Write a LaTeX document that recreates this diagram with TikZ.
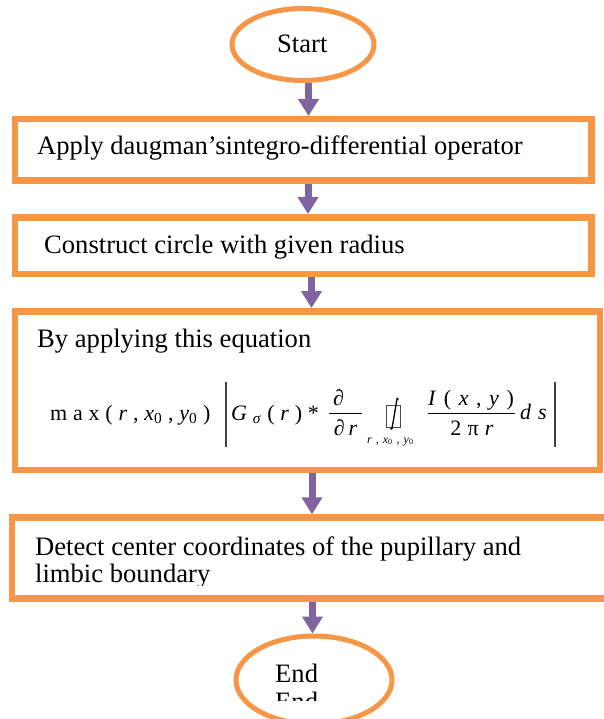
\documentclass[tikz,border=0pt]{standalone}
\usepackage{fontspec}
\setmainfont{Liberation Serif}
\usetikzlibrary{arrows.meta,shapes.geometric}
\definecolor{boxorange}{HTML}{F79646}
\definecolor{arrowpurple}{HTML}{8064A2}
\newcommand{\eqgap}{\hspace{5.8pt}}
\newcommand{\subgap}{\hspace{4pt}}
\begin{document}
\begin{tikzpicture}[x=1pt,y=-1pt,
  flowbox/.style={draw=boxorange, line width=6.5pt, rectangle, inner sep=0pt},
  term/.style={draw=boxorange, line width=5pt, ellipse, inner sep=0pt},
  flowarrow/.style={draw=arrowpurple, line width=7pt, -{Triangle[width=20pt,length=17pt]}},
  boxtext/.style={anchor=base west, inner sep=0pt, font=\fontsize{26.6}{28}\selectfont},
  eq/.style={anchor=base west, inner sep=0pt, font=\fontsize{22}{24}\selectfont},
  eqc/.style={anchor=base, inner sep=0pt, font=\fontsize{22}{24}\selectfont},
  eqsub/.style={anchor=base west, inner sep=0pt, font=\fontsize{12}{14}\selectfont},
  eqbar/.style={line width=1.3pt, black!75},
  fracline/.style={line width=0.9pt, black},
]
\useasboundingbox (0,0) rectangle (604,719);
\clip (0,0) rectangle (604,719);

% terminals and boxes
\node[term, minimum width=142pt, minimum height=72pt] (start) at (303,44.5) {};
\node[flowbox, minimum width=576.5pt, minimum height=61.5pt] (b1) at (303,150) {};
\node[flowbox, minimum width=576.5pt, minimum height=56.5pt] (b2) at (303,245.5) {};
\node[flowbox, minimum width=585pt, minimum height=158.5pt] (b3) at (307.25,390.5) {};
\node[flowbox, minimum width=603pt, minimum height=81pt] (b4) at (313.5,558) {};
\node[term, minimum width=156pt, minimum height=88pt] (endn) at (314,680) {};

% texts
\node[boxtext] (tstart) at (277,53) {Start};
\node[boxtext] (t1) at (37,155) {Apply daugman’sintegro-differential operator};
\node[boxtext] (t2) at (44,253) {Construct circle with given radius};
\node[boxtext] (t3) at (37,347) {By applying this equation};
\node[boxtext] (t4a) at (35,555) {Detect center coordinates of the pupillary and};
\begin{scope}
  \clip (0,560) rectangle (604,585.5);
  \node[boxtext] (t4b) at (35,582) {limbic boundary};
\end{scope}
\node[boxtext] (tend) at (275,682) {End};
\begin{scope}
  \clip (200,690) rectangle (400,700.5);
  \node[boxtext] (tend2) at (275,710) {End};
\end{scope}

% equation
\node[eq] (eqA) at (50,420) {m\eqgap a\eqgap x\eqgap(\eqgap\textit{r}\eqgap,\eqgap\textit{x}\textsubscript{0}\eqgap,\eqgap\textit{y}\textsubscript{0}\eqgap)};
\draw[eqbar] (226,382) -- (226,447);
\node[eq] (eqB) at (231,420) {\textit{G}\eqgap\textsubscript{\textit{σ}}\eqgap(\eqgap\textit{r}\eqgap)\eqgap*};
\node[eqc] (f1n) at (338.5,405) {∂};
\draw[fracline] (329,413) -- (362,413);
\node[eqc] (f1d) at (345.5,435) {∂\hspace{4pt}\textit{r}};
\draw[line width=0.6pt, black!70] (386.5,405.5) rectangle (400,427.5);
\draw[line width=1.3pt] (397,399) .. controls (395,410) and (394,418) .. (392,428);
\fill (397.5,399) circle (1.4pt);
\fill (391.5,428.5) circle (1.4pt);
\node[eqsub] (isub) at (367,443) {\textit{r}\subgap,\subgap\textit{x}\textsubscript{0}\subgap,\subgap\textit{y}\textsubscript{0}};
\node[eqc] (f2n) at (471,405) {\textit{I}\hspace{7.6pt}(\hspace{7.6pt}\textit{x}\hspace{7.6pt},\hspace{7.6pt}\textit{y}\hspace{7.6pt})};
\draw[fracline] (428,413) -- (515,413);
\node[eqc] (f2d) at (472,435) {2\hspace{6.2pt}π\hspace{6.2pt}\textit{r}};
\node[eq] (eqds) at (520,419) {\textit{d}\hspace{7pt}\textit{s}};
\draw[eqbar] (555,382) -- (555,447);

% connectors
\draw[flowarrow] ([xshift=5.5pt]start.south) -- ([xshift=5.5pt]start.south |- b1.north);
\draw[flowarrow] ([xshift=5pt]b1.south) -- ([xshift=5pt]b1.south |- b2.north);
\draw[flowarrow] ([xshift=8.5pt]b2.south) -- ([xshift=8.5pt]b2.south |- b3.north);
\draw[flowarrow] ([xshift=4.75pt]b3.south) -- ([xshift=4.75pt]b3.south |- b4.north);
\draw[flowarrow] ([xshift=-1pt]b4.south) -- ([xshift=-1pt]b4.south |- endn.north);
\end{tikzpicture}
\end{document}
